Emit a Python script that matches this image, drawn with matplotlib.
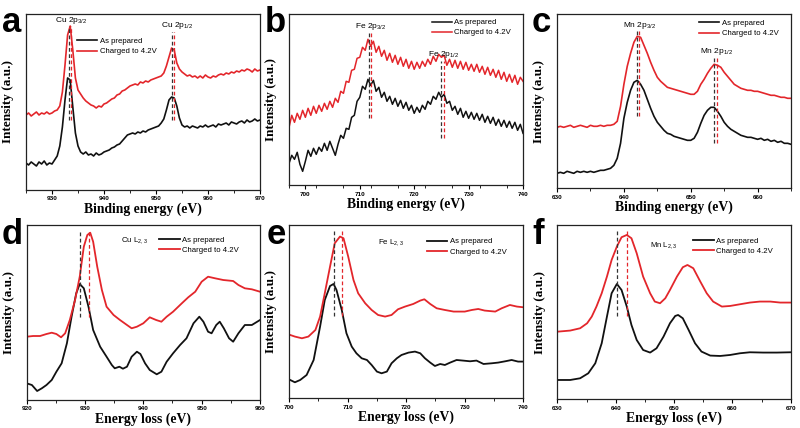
import matplotlib
matplotlib.use("Agg")
import matplotlib.pyplot as plt
import numpy as np

plt.rcParams["font.family"] = ["Liberation Sans", "DejaVu Sans"]
plt.rcParams["mathtext.default"] = "regular"

RED = "#e3262b"
BLACK = "#111111"
SERIF = "Liberation Serif"

# ---- (a) Cu 2p XPS, sampled every 0.5 eV from 925 to 970 eV ----
cu_xps_range = (925.0, 970.0)
cu_xps_prepared = [
    27, 25, 28, 26, 24, 28, 26, 29, 25, 27, 26, 30, 34, 44, 63, 90, 112, 110, 83, 57,
    44, 38, 36, 38, 35, 36, 34, 37, 35, 36, 38, 39, 40, 42, 43, 45, 46, 49, 52, 55,
    56, 57, 56, 58, 57, 59, 58, 60, 61, 62, 63, 64, 67, 71, 80, 90, 93, 92, 84, 72,
    65, 63, 64, 62, 64, 63, 62, 64, 63, 65, 63, 64, 65, 63, 66, 65, 66, 67, 65, 68,
    67, 66, 68, 69, 67, 70, 68, 69, 71, 69, 70,
]
cu_xps_charged = [
    75, 77, 74, 76, 78, 75, 77, 76, 78, 76, 77, 79, 80, 84, 98, 125, 155, 164, 140, 112,
    100, 96, 92, 89, 87, 85, 84, 82, 84, 83, 86, 87, 89, 91, 92, 95, 96, 99, 100, 102,
    104, 105, 106, 105, 108, 107, 109, 108, 110, 111, 112, 113, 114, 117, 124, 133, 142, 140, 127, 121,
    118, 116, 114, 115, 113, 114, 112, 114, 112, 115, 113, 112, 114, 113, 115, 116, 115, 117, 116, 118,
    117, 119, 118, 120, 119, 121, 120, 118, 121, 119, 120,
]

# ---- (b) Fe 2p XPS, sampled every 0.5 eV from 697 to 740 eV ----
fe_xps_range = (697.0, 740.0)
fe_xps_prepared = [
    22, 30, 26, 33, 21, 14, 24, 35, 29, 37, 31, 38, 34, 42, 35, 44, 37, 30, 41, 50,
    47, 57, 56, 68, 70, 84, 88, 99, 96, 106, 100, 105, 94, 98, 88, 93, 84, 89, 81, 87,
    79, 85, 77, 83, 75, 80, 72, 78, 73, 80, 76, 84, 81, 89, 86, 93, 88, 91, 82, 84,
    75, 79, 71, 77, 68, 74, 67, 73, 66, 72, 65, 71, 63, 69, 62, 68, 60, 66, 59, 65,
    58, 64, 57, 63, 55, 61, 52,
]
fe_xps_charged = [
    58, 70, 63, 72, 66, 75, 68, 77, 70, 79, 72, 80, 74, 82, 76, 84, 78, 87, 83, 94,
    92, 104, 103, 115, 116, 127, 128, 138, 135, 146, 139, 144, 133, 139, 129, 135, 125, 132, 123, 130,
    121, 128, 119, 126, 117, 124, 116, 123, 117, 124, 119, 126, 121, 129, 124, 131, 128, 130, 120, 126,
    118, 125, 117, 124, 116, 123, 115, 121, 114, 121, 113, 119, 111, 118, 110, 116, 108, 115, 106, 113,
    104, 111, 103, 110, 101, 108, 104,
]

# ---- (c) Mn 2p XPS, sampled every 0.5 eV from 630 to 665 eV ----
mn_xps_range = (630.0, 665.0)
mn_xps_prepared = [
    15, 16, 15, 17, 16, 15, 17, 16, 17, 16, 17, 16, 17, 18, 18, 19, 20, 23, 30, 45,
    70, 86, 98, 106, 108, 104, 98, 89, 80, 72, 66, 62, 58, 55, 54, 52, 51, 50, 49, 48,
    48, 50, 56, 65, 73, 78, 81, 81, 77, 72, 66, 62, 59, 57, 55, 53, 52, 51, 51, 50,
    49, 50, 48, 49, 47, 48, 46, 47, 45, 45, 44,
]
mn_xps_charged = [
    61, 62, 61, 62, 63, 61, 62, 63, 62, 61, 63, 62, 62, 63, 62, 63, 63, 64, 67, 82,
    104, 122, 135, 146, 152, 151, 143, 135, 126, 118, 111, 107, 104, 101, 100, 99, 98, 97, 96, 95,
    94, 94, 97, 104, 109, 115, 120, 124, 123, 121, 116, 112, 108, 104, 102, 100, 99, 98, 98, 97,
    97, 96, 95, 94, 93, 93, 92, 91, 91, 90, 90,
]

# ---- (d) Cu L2,3 EELS ----
cu_eels_x_prepared = [920, 920.9, 921.8, 922.6, 923.4, 924.3, 925.1, 926, 926.9, 927.7, 928.5,
                      929.1, 929.8, 930.6, 931.4, 932.6, 933.7, 934.6, 935.1, 935.9, 936.5,
                      937.2, 938, 938.9, 939.5, 940.3, 941.1, 942.3, 943.1, 944, 945.1, 946.3,
                      947.4, 948.6, 949.6, 950.3, 951.1, 951.7, 952.5, 953.1, 953.8, 954.7,
                      955.4, 956.3, 957.4, 958.6, 960]
cu_eels_prepared = [16.7, 15, 9, 11.7, 15, 20, 28.3, 36.7, 56.7, 83.3, 106.7,
                    116, 111.7, 93.3, 70, 53.3, 43.3, 35, 31.7, 33.3, 31.3,
                    33.3, 43.3, 48.3, 46, 36.7, 30, 25.7, 28.3, 38.3, 46.7, 55,
                    61.7, 76.7, 83.3, 78.3, 68.3, 66.7, 75, 78.3, 71.7, 61.7,
                    58.3, 66.7, 75, 75, 80]
cu_eels_x_charged = [920, 921.1, 922.3, 923.4, 924.3, 925.1, 925.9, 926.6, 927.4, 928.3, 929.1,
                     929.8, 930.4, 930.9, 931.4, 932.1, 932.9, 933.7, 934.9, 936, 937.2, 938,
                     938.9, 940, 941.1, 942.2, 943.1, 944, 945.1, 946.6, 947.7, 948.9, 950,
                     951.1, 952.3, 953.7, 955.4, 956.3, 957.4, 958.6, 960]
cu_eels_charged = [63.3, 64, 64, 66, 67.3, 66, 62.7, 66.7, 80, 100, 123.3,
                   153.3, 165, 167.3, 158.3, 133.3, 110, 93.3, 85, 80, 75, 71.7,
                   73.3, 76.7, 82.7, 80, 78.3, 83.3, 88.3, 96.7, 102.7, 108.3, 118.3,
                   123.3, 121.7, 120, 119, 115, 111.7, 110.7, 108.3]

# ---- (e) Fe L2,3 EELS ----
fe_eels_x_prepared = [700.2, 701, 701.9, 703, 704.2, 705.3, 706.1, 707, 707.6, 708.1, 709,
                      709.8, 710.7, 711.5, 712.4, 713.3, 714.1, 715, 715.8, 716.7, 717.5,
                      718.4, 719.2, 720.4, 721.5, 722.4, 723.2, 724.1, 724.9, 725.8, 726.6,
                      727.5, 728.6, 729.7, 730.9, 732, 733.2, 734.6, 735.7, 736.9, 738,
                      739.1, 740]
fe_eels_prepared = [18.3, 16, 18.3, 23.3, 38.3, 71.7, 98.3, 112.3, 114.3, 108.3, 88.3,
                    65, 51.7, 45, 40, 38.3, 33.3, 26.7, 25, 26.7, 35,
                    40, 43.3, 45.7, 46.7, 45, 40, 35.7, 32.3, 34.3, 33.3,
                    35.7, 38.3, 37.7, 37, 37.7, 34.3, 35, 35.7, 37, 38.3,
                    36.7, 36.7]
fe_eels_x_charged = [700.2, 701, 702.2, 703.3, 704.5, 705.3, 706.1, 707, 707.8, 708.7, 709.3,
                     710.1, 711, 711.8, 713, 714.1, 715.2, 716.4, 717.5, 718.6, 719.8,
                     721.2, 722.4, 723.1, 724.1, 725.2, 726.6, 728.1, 730, 731.2, 732.3,
                     733.4, 735.2, 736.3, 737.7, 738.9, 740]
fe_eels_charged = [63.3, 61.7, 60, 61.7, 68.3, 81.7, 105, 131.7, 155, 161.7, 160,
                   141.7, 118.3, 105, 95, 88.3, 83.3, 81.7, 83.3, 89, 91.7,
                   94.3, 97.7, 99, 94.3, 90, 88.3, 86.7, 86.7, 88.3, 89.3,
                   87.7, 86.7, 90, 93.3, 91.7, 91]

# ---- (f) Mn L2,3 EELS ----
mn_eels_x_prepared = [630.2, 632.2, 633.9, 635.3, 636.5, 637.6, 638.5, 639.3, 640.2, 641,
                      641.9, 642.7, 643.6, 644.7, 645.9, 647, 648.2, 649.3, 650.2, 650.7,
                      651.5, 652.5, 653.6, 654.7, 656.2, 657.9, 659.6, 661.3, 663, 665.3,
                      667.6, 670]
mn_eels_prepared = [19.3, 19.3, 21, 26, 36, 56, 82.7, 106, 115.3, 109.3,
                    92.7, 74.3, 59.3, 49.3, 46.7, 51, 62.7, 76, 83.3, 84.3,
                    81, 69.3, 56, 47.7, 43.7, 43.3, 44.3, 46, 47, 46.7,
                    46.7, 47]
mn_eels_x_charged = [630.2, 632.2, 633.9, 635.1, 635.9, 636.7, 637.6, 638.5, 639.3, 640.2,
                     641, 641.9, 642.7, 643.6, 644.7, 645.9, 646.7, 647.6, 648.5, 649.3,
                     650.5, 651.5, 652.3, 653.3, 654.5, 655.6, 656.7, 658.2, 659.6, 661.3,
                     663, 664.7, 666.5, 668.2, 670]
mn_eels_charged = [67.7, 68.7, 71, 76, 82.7, 92.7, 106, 122.7, 139.3, 152.7,
                   162, 164.3, 161, 146, 122.7, 106, 97.7, 96, 101, 109.3,
                   122.7, 132, 134.3, 131, 117.7, 106, 97.7, 92.7, 93.3, 95,
                   96.7, 97.7, 97.7, 96.7, 96.7]

# peak markers: (black x, red x, y top, y bottom, label, label x, label y)
cu_xps_peaks = [(933.2, 933.7, 164, 70, "Cu 2p$_{3/2}$", 933.6, 169),
                (953.0, 953.5, 158, 70, "Cu 2p$_{1/2}$", 954.0, 164)]
fe_xps_peaks = [(711.7, 712.1, 153, 67, "Fe 2p$_{3/2}$", 712.0, 159),
                (725.0, 725.5, 124, 47, "Fe 2p$_{1/2}$", 725.4, 131)]
mn_xps_peaks = [(641.9, 642.3, 157, 72, "Mn 2p$_{3/2}$", 642.3, 163),
                (653.5, 653.9, 132, 45, "Mn 2p$_{1/2}$", 653.9, 137)]
cu_eels_peaks = [(929.2, 930.7, 170, 83, None, 0, 0)]
fe_eels_peaks = [(707.6, 709.0, 169, 82, None, 0, 0)]
mn_eels_peaks = [(640.3, 641.9, 169, 83, None, 0, 0)]

LEG_LABELS = ["As prepared", "Charged to 4.2V"]


def make_panel(rect, xlim, height, ticks, xlabel):
    ax = fig.add_axes(rect)
    ax.set_xlim(*xlim)
    ax.set_ylim(0, height)
    ax.set_yticks([])
    ax.set_xticks(ticks)
    ax.set_xticks(np.arange(xlim[0], xlim[1] + 0.1, 5), minor=True)
    ax.tick_params(axis="x", which="major", length=3, width=0.8, direction="out",
                   labelsize=4.6, pad=1.5)
    ax.tick_params(axis="x", which="minor", length=2, width=0.6, direction="out")
    for lab in ax.get_xticklabels():
        lab.set_fontweight("bold")
    for sp in ax.spines.values():
        sp.set_linewidth(0.9)
        sp.set_color("#222222")
    ax.set_xlabel(xlabel, family=SERIF, fontweight="bold", fontsize=9.8, labelpad=0.8)
    ax.set_ylabel("Intensity (a.u.)", family=SERIF, fontweight="bold", fontsize=9.5)
    ax.yaxis.set_label_coords(-0.05, 0.5)
    return ax


def add_peaks(ax, peaks):
    for xb, xr, ytop, ybot, label, lx, ly in peaks:
        ax.plot([xb, xb], [ybot, ytop], color="#333333", ls=(0, (3, 2)), lw=0.9)
        ax.plot([xr, xr], [ybot, ytop], color=RED, ls=(0, (3, 2)), lw=0.9)
        if label:
            ax.text(lx, ly, label, ha="center", va="center", fontsize=6)


def add_legend(ax, anchor):
    ax.legend(LEG_LABELS, loc="upper left", bbox_to_anchor=anchor, frameon=False,
              fontsize=5.6, handlelength=2.6, handletextpad=0.35, labelspacing=0.35,
              borderpad=0, borderaxespad=0)


fig = plt.figure(figsize=(8, 4.28), dpi=100)

# a
ax = make_panel([0.0325, 0.5561, 0.2925, 0.4112], (925, 970), 176,
                [930, 940, 950, 960, 970], "Binding energy (eV)")
ax.plot(np.linspace(*cu_xps_range, len(cu_xps_prepared)), cu_xps_prepared, color=BLACK, lw=1.2)
ax.plot(np.linspace(*cu_xps_range, len(cu_xps_charged)), cu_xps_charged, color=RED, lw=1.2)
add_peaks(ax, cu_xps_peaks)
add_legend(ax, (0.219, 0.865))

# b
ax = make_panel([0.3613, 0.567, 0.2925, 0.4003], (697, 740), 171.3,
                [700, 710, 720, 730, 740], "Binding energy (eV)")
ax.plot(np.linspace(*fe_xps_range, len(fe_xps_prepared)), fe_xps_prepared, color=BLACK, lw=1.1)
ax.plot(np.linspace(*fe_xps_range, len(fe_xps_charged)), fe_xps_charged, color=RED, lw=1.1)
add_peaks(ax, fe_xps_peaks)
add_legend(ax, (0.609, 0.972))

# c
ax = make_panel([0.6963, 0.56, 0.2925, 0.4073], (630, 665), 174.3,
                [630, 640, 650, 660], "Binding energy (eV)")
ax.plot(np.linspace(*mn_xps_range, len(mn_xps_prepared)), mn_xps_prepared, color=BLACK, lw=1.2)
ax.plot(np.linspace(*mn_xps_range, len(mn_xps_charged)), mn_xps_charged, color=RED, lw=1.2)
add_peaks(ax, mn_xps_peaks)
add_legend(ax, (0.605, 0.967))

# d
ax = make_panel([0.0333, 0.0654, 0.2917, 0.4089], (920, 960), 175,
                [920, 930, 940, 950, 960], "Energy loss (eV)")
ax.plot(cu_eels_x_prepared, cu_eels_prepared, color=BLACK, lw=1.3)
ax.plot(cu_eels_x_charged, cu_eels_charged, color=RED, lw=1.3)
add_peaks(ax, cu_eels_peaks)
ax.text(936.1, 159.3, "Cu L$_{2,3}$", ha="left", va="center", fontsize=5.6)
add_legend(ax, (0.569, 0.935))

# e
ax = make_panel([0.3613, 0.0694, 0.2929, 0.405], (700, 740), 173.3,
                [700, 710, 720, 730, 740], "Energy loss (eV)")
ax.plot(fe_eels_x_prepared, fe_eels_prepared, color=BLACK, lw=1.3)
ax.plot(fe_eels_x_charged, fe_eels_charged, color=RED, lw=1.3)
add_peaks(ax, fe_eels_peaks)
ax.text(715.2, 155.7, "Fe L$_{2,3}$", ha="left", va="center", fontsize=5.6)
add_legend(ax, (0.587, 0.925))

# f
ax = make_panel([0.6967, 0.0671, 0.2917, 0.4073], (630, 670), 174.3,
                [630, 640, 650, 660, 670], "Energy loss (eV)")
ax.plot(mn_eels_x_prepared, mn_eels_prepared, color=BLACK, lw=1.3)
ax.plot(mn_eels_x_charged, mn_eels_charged, color=RED, lw=1.3)
add_peaks(ax, mn_eels_peaks)
ax.text(645.8, 153.3, "Mn L$_{2,3}$", ha="left", va="center", fontsize=5.6)
add_legend(ax, (0.583, 0.929))

# panel letters
for letter, px, py in [("a", 2, 32.5), ("b", 265, 32.5), ("c", 532, 32.5),
                       ("d", 2, 243.5), ("e", 267, 243.5), ("f", 532, 243.5)]:
    fig.text(px / 800, 1 - py / 428, letter, fontsize=25, fontweight="bold",
             ha="left", va="baseline")

fig.savefig("out.png", dpi=100)
